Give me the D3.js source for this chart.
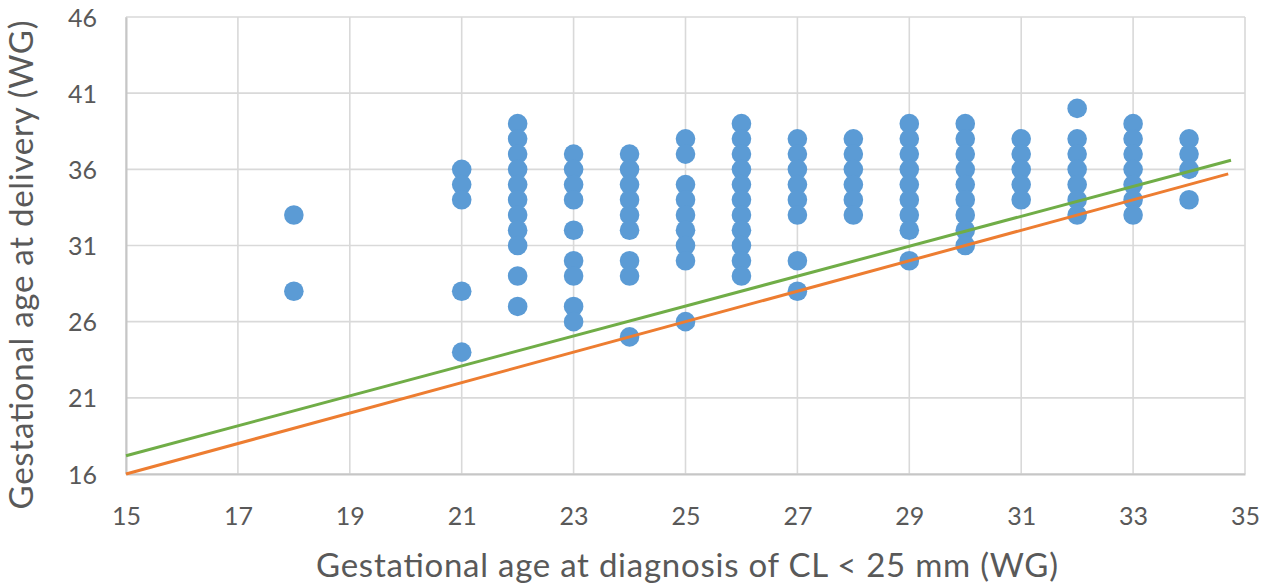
<!DOCTYPE html>
<html>
<head>
<meta charset="utf-8">
<script src="https://cdn.jsdelivr.net/npm/d3@7"></script>
<style>
  body { margin: 0; background: #fff; }
  text { font-family: Lato, "Open Sans", sans-serif; fill: #595959; }
</style>
</head>
<body>
<script>
// weeks at diagnosis, and delivery weeks observed for each
var diagnosisWeeks = [18, 21, 22, 23, 24, 25, 26, 27, 28, 29, 30, 31, 32, 33, 34];
var deliveryWeeks = [
  [33, 28],
  [36, 35, 34, 28, 24],
  [39, 38, 37, 36, 35, 34, 33, 32, 31, 29, 27],
  [37, 36, 35, 34, 32, 30, 29, 27, 26],
  [37, 36, 35, 34, 33, 32, 30, 29, 25],
  [38, 37, 35, 34, 33, 32, 31, 30, 26],
  [39, 38, 37, 36, 35, 34, 33, 32, 31, 30, 29],
  [38, 37, 36, 35, 34, 33, 30, 28],
  [38, 37, 36, 35, 34, 33],
  [39, 38, 37, 36, 35, 34, 33, 32, 30],
  [39, 38, 37, 36, 35, 34, 33, 32, 31],
  [38, 37, 36, 35, 34],
  [40, 38, 37, 36, 35, 34, 33],
  [39, 38, 37, 36, 35, 34, 33],
  [38, 37, 36, 34]
];
var greenLine = [[15, 17.2], [34.75, 36.6]];
var orangeLine = [[15, 16], [34.7, 35.7]];
var xTicks = [15, 17, 19, 21, 23, 25, 27, 29, 31, 33, 35];
var yTicks = [16, 21, 26, 31, 36, 41, 46];

var width = 1263;
var height = 586;

var points = [];
diagnosisWeeks.forEach(function(w, i) {
  deliveryWeeks[i].forEach(function(d) { points.push({x: w, y: d}); });
});

var x = d3.scaleLinear().domain([15, 35]).range([126, 1245]);
var y = d3.scaleLinear().domain([16, 46]).range([474, 17]);

var svg = d3.select('body').append('svg').attr('width', width).attr('height', height);

// grid
svg.append('g')
  .selectAll('line')
  .data(yTicks)
  .enter()
  .append('line')
  .attr('x1', x(15)).attr('x2', x(35))
  .attr('y1', function(d) { return y(d); })
  .attr('y2', function(d) { return y(d); })
  .attr('stroke', '#d9d9d9')
  .attr('stroke-width', 1.6);

svg.append('g')
  .selectAll('line')
  .data(xTicks)
  .enter()
  .append('line')
  .attr('y1', y(16)).attr('y2', y(46))
  .attr('x1', function(d) { return x(d); })
  .attr('x2', function(d) { return x(d); })
  .attr('stroke', '#d9d9d9')
  .attr('stroke-width', 1.6);

// axes
var xAxis = svg.append('g')
  .attr('transform', 'translate(0,' + y(16) + ')')
  .call(d3.axisBottom(x).tickValues(xTicks).tickSize(0).tickPadding(33));
var yAxis = svg.append('g')
  .attr('transform', 'translate(' + x(15) + ',0)')
  .call(d3.axisLeft(y).tickValues(yTicks).tickSize(0).tickPadding(29));
[xAxis, yAxis].forEach(function(a) {
  a.select('.domain').attr('stroke', '#c6c6c6').attr('stroke-width', 2);
  a.selectAll('text').style('font-size', '25px').attr('fill', '#595959')
    .style('font-family', 'Lato, sans-serif');
});
xAxis.selectAll('text').attr('dy', '0.72em');
yAxis.selectAll('text').attr('dy', '0.36em');

// dots
svg.append('g')
  .selectAll('circle')
  .data(points)
  .enter()
  .append('circle')
  .attr('cx', function(d) { return x(d.x); })
  .attr('cy', function(d) { return y(d.y); })
  .attr('r', 9.8)
  .attr('fill', '#5b9bd5');

var line = d3.line()
  .x(function(d) { return x(d[0]); })
  .y(function(d) { return y(d[1]); });

svg.append('path').datum(greenLine).attr('d', line)
  .attr('fill', 'none').attr('stroke', '#70ad47').attr('stroke-width', 3);
svg.append('path').datum(orangeLine).attr('d', line)
  .attr('fill', 'none').attr('stroke', '#ed7d31').attr('stroke-width', 3);

// titles
svg.append('text')
  .attr('x', 687).attr('y', 577)
  .attr('text-anchor', 'middle')
  .attr('textLength', 742)
  .style('font-size', '33px')
  .text('Gestational age at diagnosis of CL < 25 mm (WG)');

svg.append('text')
  .attr('transform', 'translate(33,265) rotate(-90)')
  .attr('text-anchor', 'middle')
  .attr('textLength', 489)
  .style('font-size', '33px')
  .text('Gestational age at delivery (WG)');
</script>
</body>
</html>
